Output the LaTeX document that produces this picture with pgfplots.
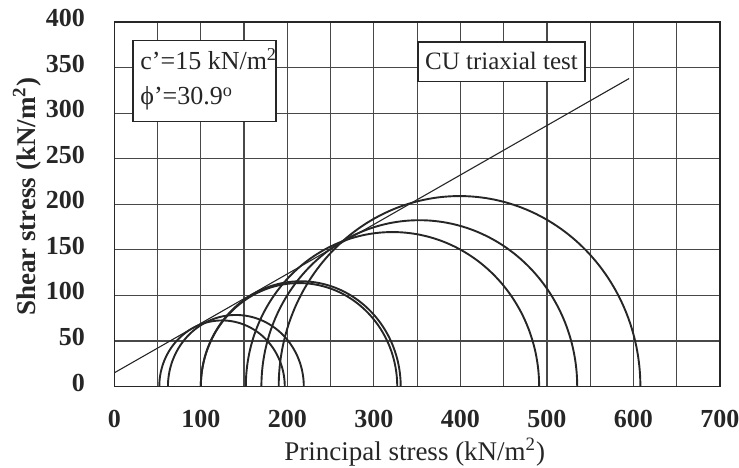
\documentclass[border=0pt]{standalone}
\usepackage{fontspec}
\setmainfont{Liberation Serif}
\usepackage{pgfplots}
\pgfplotsset{compat=1.18}
\definecolor{ink}{HTML}{262626}
\definecolor{gridc}{HTML}{484848}
% Mohr circle from sigma3 (#1) to sigma1 (#2)
\newcommand{\mohr}[2]{\addplot[ink, line width=0.95pt, domain=0:180, samples=120]
  ({(#1+#2)/2 + (#2-#1)/2*cos(x)}, {(#2-#1)/2*sin(x)});}
\begin{document}
\begin{tikzpicture}
\path[use as bounding box] (-57.15pt,-40.25pt) rectangle (312.35pt,193.25pt);
\begin{axis}[
  at={(0,0)}, anchor=south west,
  scale only axis, width=302.85pt, height=182.25pt,
  xmin=0, xmax=700, ymin=0, ymax=400,
  xtick={0,100,...,700}, minor xtick={50,150,...,650},
  ytick={0,50,...,400},
  grid=both,
  major grid style={gridc, line width=0.6pt},
  minor grid style={gridc, line width=0.6pt},
  major tick length=0pt, minor tick length=0pt,
  axis line style={ink, line width=0.7pt},
  /pgf/number format/assume math mode=true,
  ticklabel style={font=\bfseries\fontsize{13}{15}\selectfont, text=ink},
  xticklabel style={anchor=north, inner sep=0pt, yshift=-11.5pt},
  yticklabel style={anchor=east, inner sep=0pt, xshift=-14.5pt, yshift=2pt},
  xlabel={Principal stress (kN/m\textsuperscript{2})},
  ylabel={Shear stress (kN/m\textsuperscript{2})},
  xlabel style={font=\fontsize{13.5}{15}\selectfont, text=ink, at={(axis description cs:0.496,-0.1797)}, anchor=center},
  ylabel style={font=\bfseries\fontsize{13.5}{15}\selectfont, text=ink, at={(axis description cs:-0.1436,0.52)}, anchor=center},
  clip=false,
]
% annotation boxes
\draw[ink, line width=0.7pt, fill=white] (axis cs:21.6,290.5) rectangle (axis cs:186.7,380);
\node[anchor=west, text=ink, font=\fontsize{13}{15}\selectfont, inner sep=0pt] at (axis cs:29.7,359.4) {c'=15 kN/m\textsuperscript{2}};
\node[anchor=west, text=ink, font=\fontsize{13}{15}\selectfont, inner sep=0pt] at (axis cs:29.7,316) {ϕ'=30.9\textsuperscript{o}};
\draw[ink, line width=0.7pt, fill=white] (axis cs:351,335) rectangle (axis cs:544,378);
\node[text=ink, font=\fontsize{12.5}{15}\selectfont, inner sep=0pt] at (axis cs:447.5,357) {CU triaxial test};
% failure envelope
\addplot[ink, line width=0.55pt] coordinates {(0,15) (595,338)};
% Mohr circles
\mohr{52}{197}
\mohr{62}{219}
\mohr{100}{327}
\mohr{100}{331}
\mohr{152}{491}
\mohr{170}{535}
\mohr{190}{608}
\end{axis}
\end{tikzpicture}
\end{document}
